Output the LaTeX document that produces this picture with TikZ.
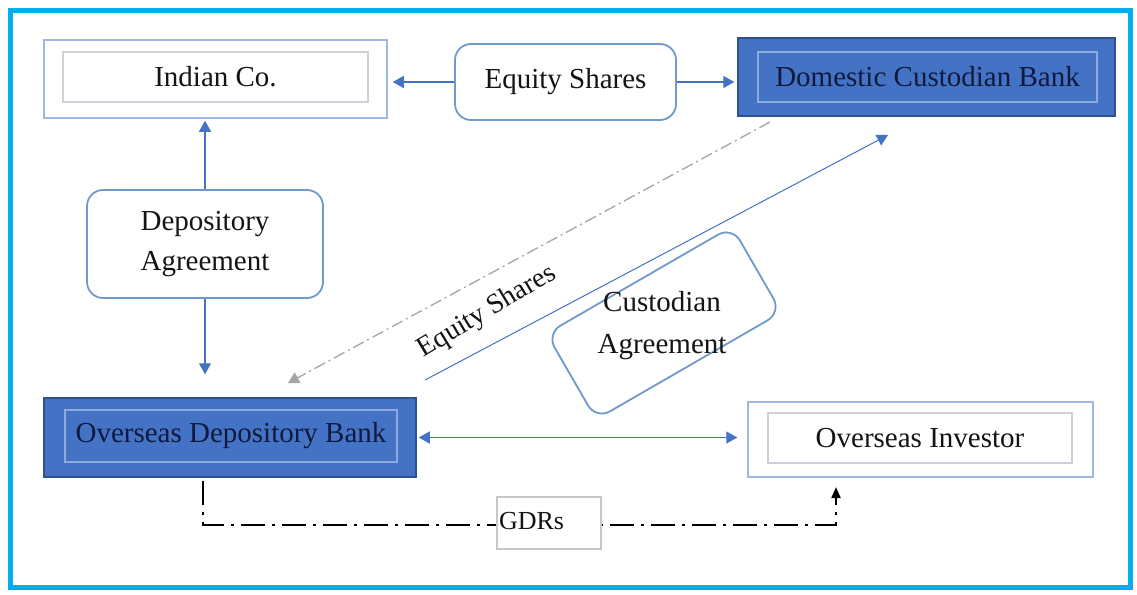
\documentclass[tikz,border=0pt]{standalone}
\usepackage{fontspec}
\setmainfont{Liberation Serif}
\usetikzlibrary{arrows.meta}
\definecolor{frameC}{HTML}{00AEEF}
\definecolor{boxblue}{HTML}{4472C4}
\definecolor{boxblueD}{HTML}{2F528F}
\definecolor{innerL}{HTML}{8FAADC}
\definecolor{outerL}{HTML}{9DB9DF}
\definecolor{innerG}{HTML}{CDD1D8}
\definecolor{roundC}{HTML}{6F9AC9}
\definecolor{arrowB}{HTML}{4472C4}
\definecolor{navyT}{HTML}{0F1A3E}
\definecolor{txtC}{HTML}{141414}
\definecolor{dashG}{HTML}{A5A5A5}
\tikzset{
  every node/.style={font=\fontsize{29}{40}\selectfont, text=txtC, inner sep=0pt},
  outerbox/.style={draw=outerL, line width=1.5pt, fill=white},
  innerbox/.style={draw=innerG, line width=1.2pt},
  bluebox/.style={draw=boxblueD, line width=1.5pt, fill=boxblue},
  blueinner/.style={draw=innerL, line width=1.5pt, text=navyT},
  roundbox/.style={draw=roundC, line width=1.8pt, rounded corners=16pt, fill=white},
  btip/.tip={Triangle[length=11pt,width=12pt]},
  bluearrow/.style={draw=arrowB, line width=1.3pt, -btip, arrowB},
  thinblue/.style={draw=arrowB!85, line width=1pt, -btip, arrowB},
  grayarrow/.style={draw=dashG, line width=1.3pt, dash pattern=on 12pt off 4pt on 2pt off 4pt, -{Triangle[length=11pt,width=12pt]}, dashG},
  gdrline/.style={draw=black, line width=2pt, dash pattern=on 24pt off 7pt on 3pt off 7pt, -{Triangle[length=11pt,width=9pt]}},
  gdrbox/.style={draw=black!22, line width=1.2pt, fill=white},
}
\begin{document}
\begin{tikzpicture}[x=1pt,y=-1pt]
\useasboundingbox (0,0) rectangle (1137,594);
\fill[white] (0,0) rectangle (1137,594);

% diagonal connectors (behind boxes)
\coordinate (dsA) at (770,122);
\coordinate (dsB) at (288,383);
\draw[grayarrow] (dsA) -- (dsB);
\coordinate (blA) at (425,380);
\coordinate (blB) at (888,135);
\draw[thinblue] (blA) -- (blB);

% GDR path
\coordinate (g0) at (203,481);
\coordinate (g1) at (203,525);
\coordinate (g2) at (836,487);
\draw[gdrline] (g0) -- (g1) -| (g2);

% Indian Co.
\node[outerbox, minimum width=343pt, minimum height=78pt] (indian) at (215.5,79) {};
\node[innerbox, minimum width=305pt, minimum height=50pt] (indianIn) at (215.5,77) {Indian Co.};

% Equity shares (top)
\node[roundbox, minimum width=221pt, minimum height=76pt] (equity) at (565.5,82) {Equity Shares};

% Domestic Custodian Bank
\node[bluebox, minimum width=377pt, minimum height=78pt] (domestic) at (926.5,77) {};
\node[blueinner, minimum width=339pt, minimum height=50pt] (domesticIn) at (927.5,77) {Domestic Custodian Bank};

% Depository Agreement
\node[roundbox, minimum width=236pt, minimum height=108pt, align=center] (depag) at (205,244) {Depository\\Agreement};

% Overseas Depository Bank
\node[bluebox, minimum width=372pt, minimum height=79pt] (odb) at (230,437.5) {};
\node[blueinner, minimum width=332pt, minimum height=52pt] (odbIn) at (231,436) {Overseas Depository Bank};

% Overseas Investor
\node[outerbox, minimum width=345pt, minimum height=75pt] (investor) at (920.5,439.5) {};
\node[innerbox, minimum width=304pt, minimum height=50pt] (investorIn) at (920,438) {Overseas Investor};

% Custodian Agreement
\node[roundbox, rotate=30, minimum width=214pt, minimum height=99pt] (custag) at (664,323) {};
\node[align=center, font=\fontsize{29}{42}\selectfont] (custagT) at (662,326) {Custodian\\Agreement};

% rotated label
\node[rotate=31, font=\fontsize{28}{34}\selectfont] (eqlabel) at (487,312) {Equity Shares};

% GDRs box
\node[gdrbox, minimum width=104pt, minimum height=52pt, text width=100pt, align=left, font=\fontsize{26}{30}\selectfont] (gdrs) at (549,523) {\raisebox{5pt}{GDRs}};

% arrows
\draw[bluearrow, shorten >=5pt] (equity.west) -- (equity.west -| indian.east);
\draw[bluearrow, shorten >=3pt] (equity.east) -- (equity.east -| domestic.west);
\draw[bluearrow, shorten >=2pt] (depag.north) -- (depag.north |- indian.south);
\draw[bluearrow, shorten >=23pt] (depag.south) -- (depag.south |- odb.north);
\draw[bluearrow, btip-btip, shorten <=2pt, shorten >=10pt] (odb.east) -- (odb.east -| investor.west);

% frame
\draw[frameC, line width=5pt] (10.5,10.5) rectangle (1130.5,587.5);
\end{tikzpicture}
\end{document}
